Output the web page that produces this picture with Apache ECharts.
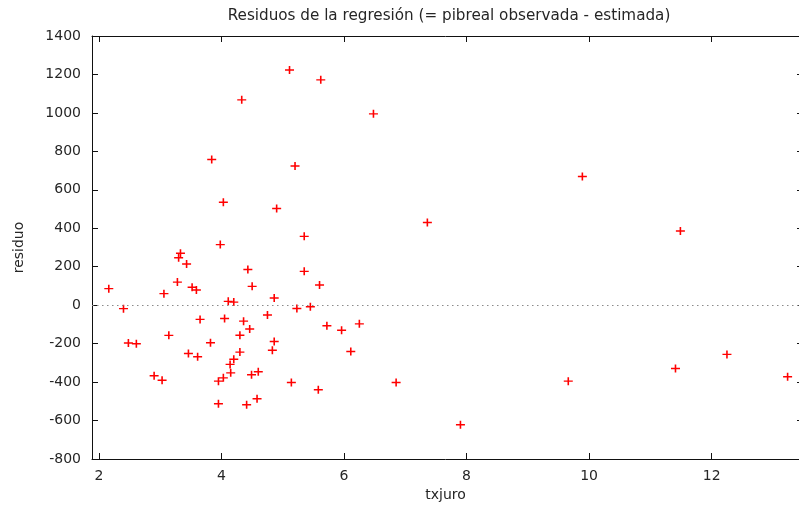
<!DOCTYPE html>
<html>
<head>
<meta charset="utf-8">
<script src="https://cdn.jsdelivr.net/npm/echarts@6/dist/echarts.min.js"></script>
<style>
  html, body { margin: 0; padding: 0; background: #fff; overflow: hidden; }
  #chart { width: 799px; height: 507px; }
</style>
</head>
<body>
<div id="chart"></div>
<script>
// Data
const txjuro = [
  7.36, 9.89, 11.49, 6.85, 7.90, 9.66, 11.41, 12.25, 13.24,
  4.33, 3.84, 4.03, 5.11, 5.62, 6.48, 5.20, 4.90,
  3.98, 3.33, 3.30, 3.43, 2.16, 3.28, 3.06, 3.52, 3.59, 4.11, 4.20,
  2.40, 3.65, 4.05, 4.36, 3.14, 2.48, 2.61, 3.82, 4.30, 3.46, 3.61,
  4.30, 4.20, 4.14, 4.15, 4.03, 3.95, 2.90, 3.03,
  5.35, 4.43, 5.35, 4.50, 5.60, 4.86, 5.23, 5.45, 4.75, 4.46, 5.72,
  5.96, 6.25, 4.86, 4.83, 6.11, 4.49, 4.60, 5.14, 5.58, 4.58,
  3.95, 4.41
];
const residuo = [
  430, 669, 386, -402, -622, -395, -329, -256, -372,
  1068, 758, 535, 1223, 1172, 995, 724, 503,
  315, 270, 247, 214, 86, 120, 60, 93, 79, 20, 16,
  -18, -74, -69, -83, -157, -197, -201, -195, -156, -251, -268,
  -244, -281, -308, -352, -378, -395, -367, -390,
  358, 186, 176, 98, 105, 37, -17, -8, -51, -124, -107,
  -130, -97, -189, -234, -241, -362, -346, -402, -440, -487,
  -513, -518
];
const xTickValues = [2, 4, 6, 8, 10, 12];
const yTickValues = [-800, -600, -400, -200, 0, 200, 400, 600, 800, 1000, 1200, 1400];

const titleText = 'Residuos de la regresión (= pibreal observada - estimada)';
const xName = 'txjuro';
const yName = 'residuo';

const points = txjuro.map((x, i) => [x, residuo[i]]);

const FONT = 'DejaVu Sans';
const TXT = '#262626';
const AX = '#111';

const xMin = 1.886, xMax = 13.426;

const chart = echarts.init(document.getElementById('chart'), null, { renderer: 'canvas' });

const xLabelFmt = v => {
  const r = Math.round(v);
  return (Math.abs(v - r) < 1e-6 && xTickValues.indexOf(r) >= 0) ? String(r) : '';
};

chart.setOption({
  animation: false,
  backgroundColor: '#fff',
  title: {
    text: titleText,
    left: 444,
    top: 4,
    textAlign: 'center',
    textStyle: { fontFamily: FONT, fontSize: 15.2, fontWeight: 'normal', color: TXT }
  },
  grid: { left: 92, top: 36, width: 708, height: 423, containLabel: false },
  xAxis: [
    {
      type: 'value', position: 'bottom', min: xMin, max: xMax,
      name: xName, nameLocation: 'middle', nameGap: 29,
      nameTextStyle: { fontFamily: FONT, fontSize: 14, color: TXT },
      axisLine: { show: true, onZero: false, lineStyle: { color: AX, width: 1 } },
      axisTick: { show: true, inside: true, length: 6, lineStyle: { color: AX } },
      axisLabel: { formatter: xLabelFmt, margin: 10, fontFamily: FONT, fontSize: 14, color: TXT, showMinLabel: false, showMaxLabel: false },
      splitLine: { show: false }
    },
    {
      type: 'value', position: 'top', min: xMin, max: xMax,
      axisLine: { show: true, onZero: false, lineStyle: { color: AX, width: 1 } },
      axisTick: { show: true, inside: true, length: 6, lineStyle: { color: AX } },
      axisLabel: { show: false },
      splitLine: { show: false }
    }
  ],
  yAxis: [
    {
      type: 'value', position: 'left', min: -800, max: 1400, interval: 200,
      name: yName, nameLocation: 'middle', nameGap: 66, nameRotate: 90,
      nameTextStyle: { fontFamily: FONT, fontSize: 14, color: TXT },
      axisLine: { show: true, onZero: false, lineStyle: { color: AX, width: 1 } },
      axisTick: { show: true, inside: true, length: 6, lineStyle: { color: AX } },
      axisLabel: { margin: 11, fontFamily: FONT, fontSize: 14, color: TXT,
        formatter: v => (yTickValues.indexOf(v) >= 0 ? String(v) : '') },
      splitLine: { show: false }
    },
    {
      type: 'value', position: 'right', min: -800, max: 1400, interval: 200,
      axisLine: { show: false },
      axisTick: { show: true, inside: true, length: 2, lineStyle: { color: AX } },
      axisLabel: { show: false },
      splitLine: { show: false }
    }
  ],
  series: [
    {
      type: 'scatter',
      xAxisIndex: 0, yAxisIndex: 0,
      data: points,
      symbol: 'path://M0,5L10,5M5,0L5,10',
      symbolSize: [9, 8],
      itemStyle: { color: 'rgba(0,0,0,0)', borderColor: '#ff0000', borderWidth: 1.5, opacity: 1 },
      emphasis: { disabled: true },
      silent: true,
      markLine: {
        silent: true,
        symbol: 'none',
        label: { show: false },
        lineStyle: { type: [1.5, 3.5], color: '#8a8a8a', width: 1 },
        data: [{ yAxis: 0 }],
        animation: false
      }
    }
  ]
});
</script>
</body>
</html>
